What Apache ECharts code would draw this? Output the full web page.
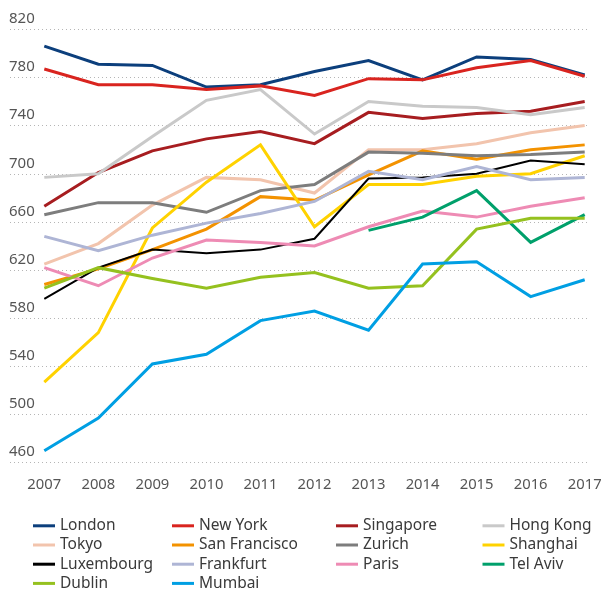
<!DOCTYPE html>
<html>
<head>
<meta charset="utf-8">
<script src="https://cdn.jsdelivr.net/npm/echarts@6/dist/echarts.min.js"></script>
<style>
  html, body { margin: 0; padding: 0; background: #fff; }
  #chart { width: 608px; height: 589px; }
</style>
</head>
<body>
<div id="chart"></div>
<script>
// Years on the horizontal axis
const years = ['2007', '2008', '2009', '2010', '2011', '2012', '2013', '2014', '2015', '2016', '2017'];

// Index values per city
const london       = [806, 791, 790, 772, 774, 785, 794, 778, 797, 795, 782];
const newYork      = [787, 774, 774, 770, 773, 765, 779, 778, 788, 794, 781];
const singapore    = [673, 701, 719, 729, 735, 725, 751, 746, 750, 752, 760];
const hongKong     = [697, 700, 731, 761, 770, 733, 760, 756, 755, 749, 755];
const tokyo        = [625, 642, 674, 697, 695, 684, 720, 720, 725, 734, 740];
const sanFrancisco = [608, 621, 637, 654, 681, 678, 699, 719, 712, 720, 724];
const zurich       = [666, 676, 676, 668, 686, 691, 718, 717, 715, 716, 718];
const shanghai     = [527, 568, 655, 693, 724, 656, 691, 691, 698, 700, 715];
const luxembourg   = [596, 622, 637, 634, 637, 646, 696, 697, 700, 711, 708];
const frankfurt    = [648, 636, 649, 659, 667, 677, 702, 695, 706, 695, 697];
const paris        = [622, 607, 630, 645, 643, 640, 656, 669, 664, 673, 680];
const telAviv      = [null, null, null, null, null, null, 653, 664, 686, 643, 666];
const dublin       = [605, 622, 613, 605, 614, 618, 605, 607, 654, 663, 663];
const mumbai       = [470, 497, 542, 550, 578, 586, 570, 625, 627, 598, 612];

// Y axis range and step
const yMin = 460, yMax = 820, yStep = 40;

const cities = [
  { name: 'London',        data: london,       color: '#0c3f7c', width: 3 },
  { name: 'New York',      data: newYork,      color: '#d9241f', width: 3 },
  { name: 'Singapore',     data: singapore,    color: '#a71d20', width: 3 },
  { name: 'Hong Kong',     data: hongKong,     color: '#c9c9c9', width: 3 },
  { name: 'Tokyo',         data: tokyo,        color: '#f2c4ad', width: 3 },
  { name: 'San Francisco', data: sanFrancisco, color: '#f39200', width: 3 },
  { name: 'Zurich',        data: zurich,       color: '#7d7d7d', width: 3 },
  { name: 'Shanghai',      data: shanghai,     color: '#ffd200', width: 3 },
  { name: 'Luxembourg',    data: luxembourg,   color: '#000000', width: 2 },
  { name: 'Frankfurt',     data: frankfurt,    color: '#aeb5d5', width: 3 },
  { name: 'Paris',         data: paris,        color: '#ee8bb4', width: 3 },
  { name: 'Tel Aviv',      data: telAviv,      color: '#00a06b', width: 3 },
  { name: 'Dublin',        data: dublin,       color: '#95c11f', width: 3 },
  { name: 'Mumbai',        data: mumbai,       color: '#009fe3', width: 3 }
];

const FONT = 'Noto Sans';
const TEXT = '#555555';

// Legend laid out as four columns
const legendColumns = [
  { left: 33,    names: ['London', 'Tokyo', 'Luxembourg', 'Dublin'] },
  { left: 172,   names: ['New York', 'San Francisco', 'Frankfurt', 'Mumbai'] },
  { left: 336,   names: ['Singapore', 'Zurich', 'Paris'] },
  { left: 482.5, names: ['Hong Kong', 'Shanghai', 'Tel Aviv'] }
];

const chart = echarts.init(document.getElementById('chart'), null, { renderer: 'canvas' });

const gridTop = 29.3, gridBottom = 126.3;

chart.setOption({
  animation: false,
  backgroundColor: '#ffffff',
  grid: [
    // plotting area for the lines
    { left: 44.3, right: 23.3, top: gridTop, bottom: gridBottom },
    // wider area carrying the dotted gridlines and value labels
    { left: 10, right: 21, top: gridTop, bottom: gridBottom }
  ],
  xAxis: [
    {
      type: 'category', gridIndex: 0, data: years, boundaryGap: false,
      axisLine: { show: false }, axisTick: { show: false },
      axisLabel: { color: TEXT, fontFamily: FONT, fontSize: 14.8, margin: 15 },
      splitLine: { show: false }
    },
    {
      type: 'value', gridIndex: 1, show: false
    }
  ],
  yAxis: [
    {
      type: 'value', gridIndex: 0, min: yMin, max: yMax, interval: yStep,
      show: false, splitLine: { show: false }
    },
    {
      type: 'value', gridIndex: 1, min: yMin, max: yMax, interval: yStep,
      axisLine: { show: false }, axisTick: { show: false },
      axisLabel: {
        inside: true, margin: -1, color: TEXT, fontFamily: FONT, fontSize: 15,
        verticalAlign: 'bottom', padding: [0, 0, 3, 0]
      },
      splitLine: { show: true, lineStyle: { color: '#b5b5b5', type: [1, 3], width: 1 } }
    }
  ],
  legend: legendColumns.map(col => ({
    orient: 'vertical',
    left: col.left,
    top: 517.8,
    height: 90,
    data: col.names,
    icon: 'rect',
    itemWidth: 22,
    itemHeight: 3,
    itemGap: 3.2,
    padding: 0,
    selectedMode: false,
    textStyle: { color: '#3a3a3a', fontFamily: FONT, fontSize: 15.5 }
  })),
  series: cities.map(c => ({
    name: c.name,
    type: 'line',
    xAxisIndex: 0,
    yAxisIndex: 0,
    data: c.data,
    symbol: 'none',
    connectNulls: false,
    color: c.color,
    lineStyle: { color: c.color, width: c.width, join: 'miter' }
  }))
});
</script>
</body>
</html>
